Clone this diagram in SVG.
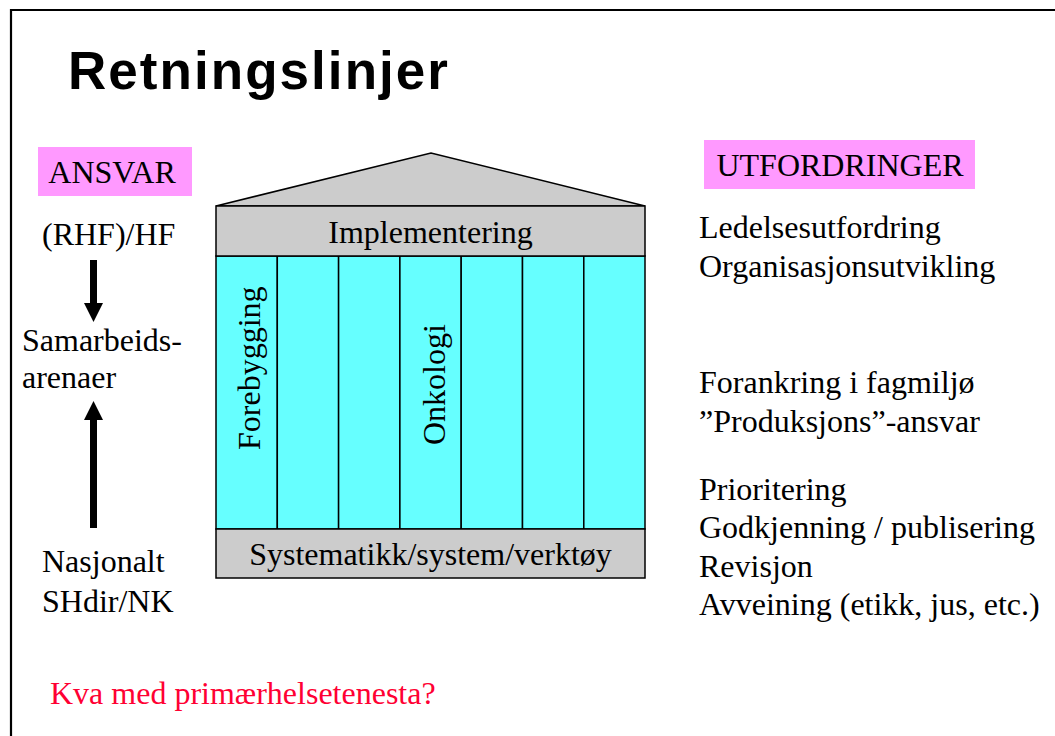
<svg xmlns="http://www.w3.org/2000/svg" width="1055" height="736" viewBox="0 0 1055 736">
  <style>
    .serif { font-family: "Liberation Serif", "Times New Roman", serif; font-size: 32px; fill: #000; }
    .mid { text-anchor: middle; }
    .band { fill: #CCCCCC; stroke: #000; stroke-width: 1.5; }
    .pillar { fill: #66FFFF; stroke: #000; stroke-width: 1.5; }
    .tag { fill: #FF99FF; }
    .shaft { stroke: #000; stroke-width: 7; fill: none; }
  </style>
  <defs>
    <marker id="head" markerUnits="userSpaceOnUse" markerWidth="21" markerHeight="20" refX="2" refY="9.5" orient="auto">
      <path d="M0,0 L19,9.5 L0,19 Z" fill="#000"/>
    </marker>
  </defs>

  <rect width="1055" height="736" fill="#fff"/>
  <!-- slide frame -->
  <path d="M11,736 V10 H1055" fill="none" stroke="#000" stroke-width="2.2"/>

  <!-- title -->
  <text id="title" x="68" y="89" font-family="'Liberation Sans', Arial, sans-serif" font-weight="bold" font-size="53" textLength="380" lengthAdjust="spacing">Retningslinjer</text>

  <!-- responsibility column -->
  <g id="ansvar">
    <rect class="tag" x="38" y="147" width="154" height="49"/>
    <text class="serif mid" x="112" y="183">ANSVAR</text>
  </g>
  <g id="rhf">
    <text class="serif" x="42" y="245">(RHF)/HF</text>
  </g>
  <g id="samarbeid">
    <text class="serif" x="22" y="351">Samarbeids-</text>
    <text class="serif" x="22" y="388">arenaer</text>
  </g>
  <g id="nasjonalt">
    <text class="serif" x="42" y="572">Nasjonalt</text>
    <text class="serif" x="42" y="612">SHdir/NK</text>
  </g>

  <g id="connectors">
    <line class="shaft" x1="93.5" y1="260" x2="93.5" y2="305" marker-end="url(#head)"/>
    <line class="shaft" x1="93.5" y1="528" x2="93.5" y2="418" marker-end="url(#head)"/>
  </g>

  <!-- the house -->
  <g id="house">
    <polygon class="band" points="216,206 431,153 645,206"/>
    <g id="pillars">
      <rect class="pillar" x="216" y="256" width="61.3" height="273"/>
      <rect class="pillar" x="277.3" y="256" width="61.3" height="273"/>
      <rect class="pillar" x="338.6" y="256" width="61.3" height="273"/>
      <rect class="pillar" x="399.9" y="256" width="61.3" height="273"/>
      <rect class="pillar" x="461.2" y="256" width="61.3" height="273"/>
      <rect class="pillar" x="522.5" y="256" width="61.3" height="273"/>
      <rect class="pillar" x="583.8" y="256" width="61.2" height="273"/>
    </g>
    <g id="implementering">
      <rect class="band" x="216" y="206" width="429" height="50"/>
      <text class="serif mid" x="430.5" y="243">Implementering</text>
    </g>
    <g id="systematikk">
      <rect class="band" x="216" y="529" width="429" height="49"/>
      <text class="serif mid" x="430.5" y="565">Systematikk/system/verktøy</text>
    </g>
    <g id="forebygging">
      <text class="serif" transform="translate(260,450) rotate(-90)">Forebygging</text>
    </g>
    <g id="onkologi">
      <text class="serif" transform="translate(445,445) rotate(-90)">Onkologi</text>
    </g>
  </g>

  <!-- challenges column -->
  <g id="utfordringer">
    <rect class="tag" x="704" y="140" width="271" height="49"/>
    <text class="serif mid" x="840" y="176">UTFORDRINGER</text>
  </g>
  <g id="leiing">
    <text class="serif" x="699" y="238">Ledelsesutfordring</text>
    <text class="serif" x="699" y="277">Organisasjonsutvikling</text>
  </g>
  <g id="forankring">
    <text class="serif" x="699" y="393">Forankring i fagmiljø</text>
    <text class="serif" x="699" y="432">”Produksjons”-ansvar</text>
  </g>
  <g id="prosess">
    <text class="serif" x="699" y="500">Prioritering</text>
    <text class="serif" x="699" y="538">Godkjenning / publisering</text>
    <text class="serif" x="699" y="577">Revisjon</text>
    <text class="serif" x="699" y="615">Avveining (etikk, jus, etc.)</text>
  </g>

  <g id="primaer">
    <text class="serif" x="50" y="704" style="fill:#FF0033">Kva med primærhelsetenesta?</text>
  </g>
</svg>
